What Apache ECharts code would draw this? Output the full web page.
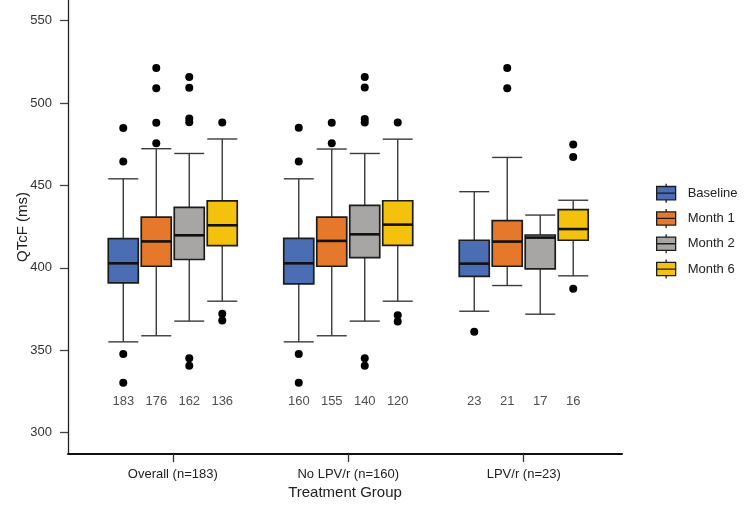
<!DOCTYPE html>
<html>
<head>
<meta charset="utf-8">
<script src="https://cdn.jsdelivr.net/npm/echarts@6/dist/echarts.min.js"></script>
<style>
  html, body { margin: 0; padding: 0; background: #fff; }
  #chart { width: 745px; height: 506px; }
</style>
</head>
<body>
<div id="chart"></div>
<script>
// treatment groups on the x axis
var groups = ["Overall (n=183)", "No LPV/r (n=160)", "LPV/r (n=23)"];
var visits = ["Baseline", "Month 1", "Month 2", "Month 6"];
var visitColors = ["#4A6DB3", "#E5782A", "#A8A6A5", "#F4C20D"];

// box stats per group: [min, q1, median, q3, max]
var baselineBox = [
  [355, 390.8, 402.7, 417.7, 454],
  [355, 390.2, 402.7, 417.9, 454],
  [373.6, 394.8, 402.5, 416.7, 446.2]
];
var month1Box = [
  [358.7, 400.9, 416, 430.7, 472.3],
  [358.7, 400.9, 416.3, 430.8, 472.1],
  [389.2, 400.9, 415.9, 428.6, 467]
];
var month2Box = [
  [367.6, 405, 419.7, 436.7, 469.4],
  [367.6, 406.2, 420.3, 437.9, 469.4],
  [371.8, 399.3, 418.3, 419.9, 432]
];
var month6Box = [
  [379.7, 413.5, 425.8, 440.6, 478.2],
  [379.7, 413.6, 426.2, 440.7, 478.1],
  [395.1, 416.7, 423.5, 435.3, 441]
];

// outliers: [group number, QTcF]
var baselineOut = [[1, 484.8], [1, 464.5], [1, 347.6], [1, 330.2],
  [2, 485], [2, 464.5], [2, 347.6], [2, 330.2], [3, 361.1]];
var month1Out = [[1, 521.3], [1, 509], [1, 488], [1, 475.6],
  [2, 488], [2, 475.6], [3, 521.3], [3, 509]];
var month2Out = [[1, 515.8], [1, 509.3], [1, 490.7], [1, 488.4], [1, 345], [1, 340.5],
  [2, 515.9], [2, 509.4], [2, 490.4], [2, 488.2], [2, 345], [2, 340.5]];
var month6Out = [[1, 488.2], [1, 372], [1, 368],
  [2, 488.2], [2, 371.2], [2, 367.4], [3, 474.8], [3, 467.2], [3, 387.2]];

// number of patients per box
var baselineN = [183, 160, 23];
var month1N = [176, 155, 21];
var month2N = [162, 140, 17];
var month6N = [136, 120, 16];

var yTicks = [300, 350, 400, 450, 500, 550];

var boxes = [baselineBox, month1Box, month2Box, month6Box];
var outs = [baselineOut, month1Out, month2Out, month6Out];
var counts = [baselineN, month1N, month2N, month6N];

var OFFSETS = [-0.282, -0.094, 0.094, 0.282];
var BOX_W = 0.171;
var COUNT_Y = 318.6;
var FONT = "Liberation Sans, Arial, sans-serif";

function renderBox(params, api) {
  var x = api.value(0);
  var lo = api.coord([x, api.value(1)]);
  var q1 = api.coord([x, api.value(2)]);
  var md = api.coord([x, api.value(3)]);
  var q3 = api.coord([x, api.value(4)]);
  var hi = api.coord([x, api.value(5)]);
  var w = api.size([BOX_W, 0])[0];
  var cx = lo[0];
  var wStyle = { stroke: "#3a3a3a", lineWidth: 1.4 };
  return {
    type: "group",
    children: [
      { type: "line", shape: { x1: cx, y1: hi[1], x2: cx, y2: q3[1] }, style: wStyle },
      { type: "line", shape: { x1: cx, y1: q1[1], x2: cx, y2: lo[1] }, style: wStyle },
      { type: "line", shape: { x1: cx - w / 2, y1: hi[1], x2: cx + w / 2, y2: hi[1] }, style: wStyle },
      { type: "line", shape: { x1: cx - w / 2, y1: lo[1], x2: cx + w / 2, y2: lo[1] }, style: wStyle },
      {
        type: "rect",
        shape: { x: cx - w / 2, y: q3[1], width: w, height: q1[1] - q3[1] },
        style: { fill: api.visual("color"), stroke: "#1c1c1c", lineWidth: 1.7 }
      },
      { type: "line", shape: { x1: cx - w / 2, y1: md[1], x2: cx + w / 2, y2: md[1] },
        style: { stroke: "#111", lineWidth: 2.6 } }
    ]
  };
}

var series = [];
visits.forEach(function (name, s) {
  series.push({
    name: name,
    type: "custom",
    renderItem: renderBox,
    itemStyle: { color: visitColors[s] },
    encode: { x: 0, y: [1, 2, 3, 4, 5] },
    data: boxes[s].map(function (b, g) {
      return [g + 1 + OFFSETS[s]].concat(b);
    }),
    z: 2
  });
});
visits.forEach(function (name, s) {
  series.push({
    name: name + " outliers",
    type: "scatter",
    symbolSize: 8,
    itemStyle: { color: "#000", opacity: 1 },
    data: outs[s].map(function (o) { return [o[0] + OFFSETS[s], o[1]]; }),
    z: 3
  });
  series.push({
    name: name + " n",
    type: "scatter",
    symbolSize: 0,
    silent: true,
    label: {
      show: true, position: "inside", color: "#222", fontSize: 13, fontFamily: FONT,
      formatter: function (p) { return p.value[2]; }
    },
    data: counts[s].map(function (n, g) { return [g + 1 + OFFSETS[s], COUNT_Y, n]; })
  });
});

var legendIcon = "path://M10,0L10,3M0,3L20,3L20,17L0,17ZM0,10L20,10M10,17L10,20";

var chart = echarts.init(document.getElementById("chart"));
chart.setOption({
  animation: false,
  backgroundColor: "#fff",
  textStyle: { fontFamily: FONT },
  grid: { left: 68, right: 123, top: 0, bottom: 52, outerBoundsMode: "none" },
  legend: {
    data: visits,
    orient: "vertical",
    left: 656,
    top: 183,
    padding: 0,
    icon: legendIcon,
    itemWidth: 19,
    itemHeight: 20,
    itemGap: 5,
    itemStyle: { borderColor: "#1c1c1c", borderWidth: 1.3 },
    textStyle: { fontSize: 13, color: "#222", fontFamily: FONT, padding: [0, 0, 0, 7] },
    selectedMode: false
  },
  xAxis: {
    type: "value",
    min: 0.403,
    max: 3.56,
    name: "Treatment Group",
    nameLocation: "middle",
    nameGap: 31,
    nameMoveOverlap: false,
    nameTextStyle: { fontSize: 15, color: "#222", fontFamily: FONT },
    splitLine: { show: false },
    axisLine: { show: true, lineStyle: { color: "#111", width: 2 } },
    axisTick: { show: true, length: 8, customValues: [1, 2, 3], lineStyle: { color: "#333", width: 1.3 } },
    axisLabel: {
      customValues: [1, 2, 3], margin: 14, fontSize: 13, color: "#222", fontFamily: FONT,
      formatter: function (v) { return groups[Math.round(v) - 1] || ""; }
    }
  },
  yAxis: {
    type: "value",
    min: 286.9,
    max: 562.6,
    name: "QTcF (ms)",
    nameLocation: "middle",
    nameGap: 38,
    nameMoveOverlap: false,
    nameTextStyle: { fontSize: 15, color: "#222", fontFamily: FONT },
    splitLine: { show: false },
    axisLine: { show: true, lineStyle: { color: "#222", width: 1.3 } },
    axisTick: { show: true, length: 8, customValues: yTicks, lineStyle: { color: "#444", width: 1.3 } },
    axisLabel: { customValues: yTicks, margin: 16, fontSize: 13, color: "#333", fontFamily: FONT }
  },
  series: series
});
</script>
</body>
</html>
